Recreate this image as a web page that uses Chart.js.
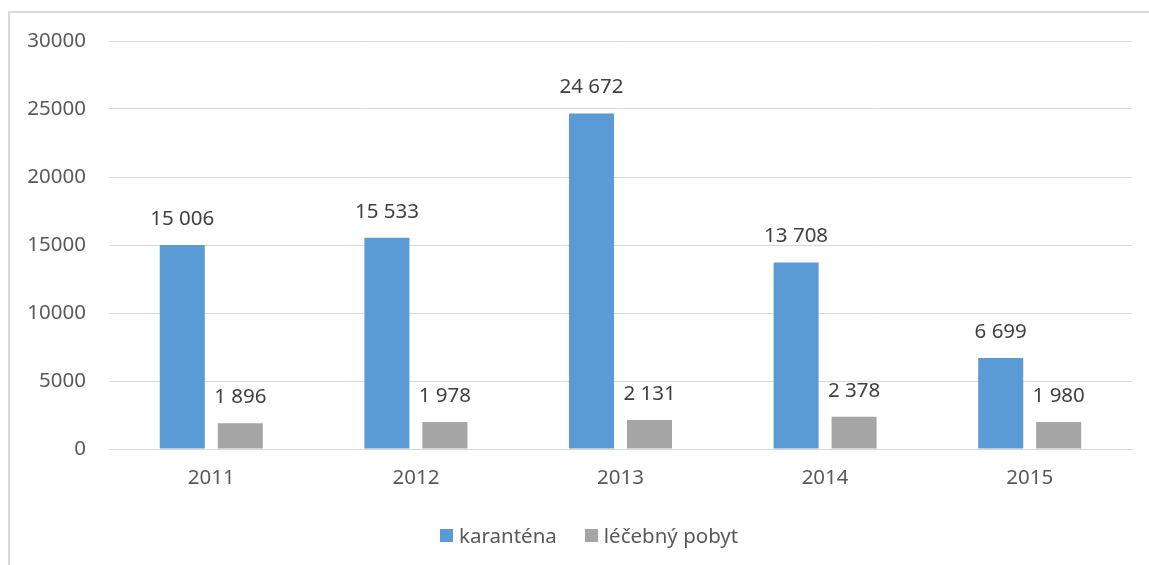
<!DOCTYPE html>
<html>
<head>
<meta charset="utf-8">
<script src="https://cdn.jsdelivr.net/npm/chart.js@4"></script>
<style>
  html, body { margin: 0; padding: 0; background: #fff; overflow: hidden; }
  #wrap { position: relative; width: 1149px; height: 565px; }
  #frame { position: absolute; left: 8px; top: 11px; width: 1160px; height: 580px;
           border-left: 2px solid #d9d9d9; border-top: 2px solid #d9d9d9; }
  canvas { position: absolute; left: 0; top: 0; }
  #legend { position: absolute; left: 440px; top: 523px; height: 24px; margin: 0; padding: 0;
            list-style: none; display: flex; align-items: center;
            font: 20.5px "Noto Sans", "Open Sans", sans-serif; color: #595959; }
  .legend-item { display: flex; align-items: center; margin-right: 28px; white-space: nowrap; }
  .legend-dot { display: inline-block; width: 13px; height: 13px; margin-right: 6px; }
</style>
</head>
<body>
<div id="wrap">
  <div id="frame"></div>
  <canvas id="chart" width="1149" height="565"></canvas>
  <ul id="legend"></ul>
</div>
<script>
/* ------------------------------
 * data
 * ------------------------------ */
const years = ['2011', '2012', '2013', '2014', '2015'];
const karantena = [15006, 15533, 24672, 13708, 6699];
const lecebnyPobyt = [1896, 1978, 2131, 2378, 1980];
const yTicks = [0, 5000, 10000, 15000, 20000, 25000, 30000];

const COLORS = {
  blue: '#5b9bd5',
  gray: '#a5a5a5',
  grid: '#d9d9d9',
  text: '#595959',
  label: '#404040'
};
const FONT = '"Noto Sans", "Open Sans", sans-serif';
const SIZE = 20.5;

// 15006 -> "15 006"
function fmt(v) {
  return String(v).replace(/\B(?=(\d{3})+(?!\d))/g, ' ');
}

// value labels above bars (no datalabels plugin offline)
const barLabels = {
  id: 'barLabels',
  afterDatasetsDraw(chart) {
    const ctx = chart.ctx;
    ctx.save();
    ctx.font = SIZE + 'px ' + FONT;
    ctx.fillStyle = COLORS.label;
    ctx.textAlign = 'center';
    ctx.textBaseline = 'middle';
    chart.data.datasets.forEach((ds, i) => {
      chart.getDatasetMeta(i).data.forEach((bar, j) => {
        ctx.fillText(fmt(ds.data[j]), bar.x, bar.y - 26);
      });
    });
    ctx.restore();
  }
};

const chart = new Chart(document.getElementById('chart'), {
  type: 'bar',
  plugins: [barLabels],
  data: {
    labels: years,
    datasets: [
      { label: 'karanténa', data: karantena, backgroundColor: COLORS.blue },
      { label: 'léčebný pobyt', data: lecebnyPobyt, backgroundColor: COLORS.gray }
    ]
  },
  options: {
    responsive: false,
    animation: false,
    devicePixelRatio: 1,
    layout: { padding: { left: 0, right: 17, top: 41, bottom: 68 } },
    datasets: {
      bar: { categoryPercentage: 0.567, barPercentage: 0.776 }
    },
    scales: {
      x: {
        grid: { display: false },
        border: { display: true, color: COLORS.grid, width: 1 },
        ticks: { color: COLORS.text, font: { family: FONT, size: SIZE }, padding: 9 },
        afterFit(scale) { scale.height = 48; }
      },
      y: {
        min: 0,
        max: 30000,
        afterBuildTicks(scale) { scale.ticks = yTicks.map(v => ({ value: v })); },
        grid: { color: COLORS.grid, lineWidth: 1, drawTicks: false },
        border: { display: false },
        ticks: {
          color: COLORS.text,
          font: { family: FONT, size: SIZE },
          padding: 23,
          callback: v => String(v)
        },
        afterFit(scale) { scale.width = 109; }
      }
    },
    plugins: {
      tooltip: { enabled: false },
      legend: { display: false }
    }
  }
});

// HTML legend (tighter box-text gap than the built-in one)
let html = '';
chart.data.datasets.forEach(ds => {
  html += `<li class="legend-item"><i class="legend-dot" style="background:${ds.backgroundColor}"></i><span>${ds.label}</span></li>`;
});
document.getElementById('legend').innerHTML = html;
</script>
</body>
</html>
